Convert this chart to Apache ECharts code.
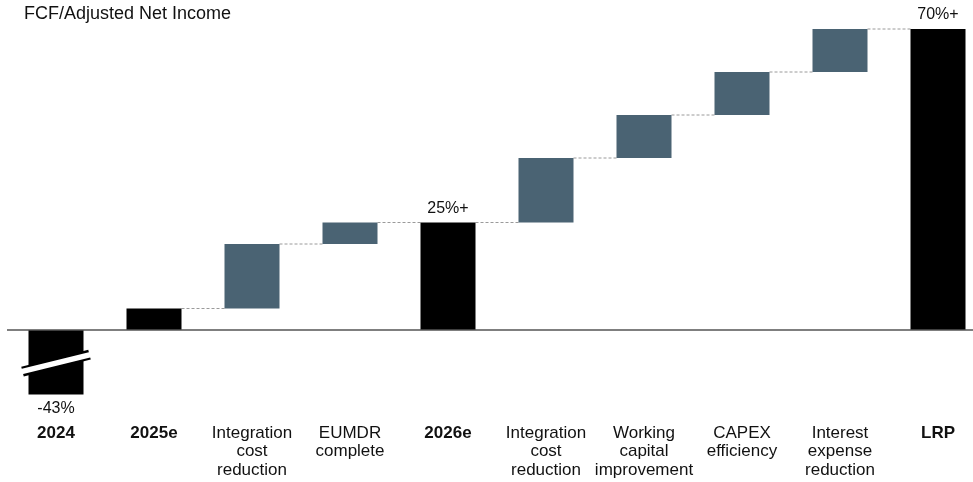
<!DOCTYPE html>
<html>
<head>
<meta charset="utf-8">
<script src="https://cdn.jsdelivr.net/npm/echarts@6/dist/echarts.min.js"></script>
<style>
html,body{margin:0;padding:0;background:#fff;}
#chart{width:973px;height:482px;}
</style>
</head>
<body>
<div id="chart"></div>
<script>
// ---- data ----
var categories = ['2024', '2025e', 'Integration\ncost\nreduction', 'EUMDR\ncomplete', '2026e',
  'Integration\ncost\nreduction', 'Working\ncapital\nimprovement', 'CAPEX\nefficiency',
  'Interest\nexpense\nreduction', 'LRP'];
var boldCategories = ['2024', '2025e', '2026e', 'LRP'];
var barStart = [0, 0, 5, 20, 0, 25, 40, 50, 60, 0];
// 2024 is drawn on a broken (truncated) scale: actual value -43%
var barEnd = [-15, 5, 20, 25, 25, 40, 50, 60, 70, 70];
var barKind = ['total', 'total', 'step', 'step', 'total', 'step', 'step', 'step', 'step', 'total'];
var valueLabels = ['-43%', '', '', '', '25%+', '', '', '', '', '70%+'];
var breakValue = -7.7; // where the axis-break mark sits on the 2024 bar

var FONT = '"Liberation Sans", Arial, sans-serif';
var COLORS = { total: '#000000', step: '#4a6373' };
var BAR_W = 55;

var baseData = barStart.slice();
var deltaData = barEnd.map(function (e, i) {
  return {
    value: e - barStart[i],
    itemStyle: { color: COLORS[barKind[i]] },
    label: {
      show: valueLabels[i] !== '',
      position: (e - barStart[i]) < 0 ? 'bottom' : 'top',
      formatter: valueLabels[i]
    }
  };
});
var connectorData = [];
for (var i = 1; i < barEnd.length - 1; i++) {
  connectorData.push([i, barEnd[i]]);
}

var chart = echarts.init(document.getElementById('chart'), null, { renderer: 'canvas' });
chart.setOption({
  animation: false,
  backgroundColor: '#ffffff',
  title: {
    text: 'FCF/Adjusted Net Income',
    left: 19, top: 0,
    textStyle: { fontFamily: FONT, fontSize: 18, fontWeight: 'normal', color: '#111' }
  },
  grid: { left: 7, width: 980, top: 29, height: 387, outerBoundsMode: 'none', containLabel: false },
  xAxis: {
    type: 'category',
    data: categories,
    axisLine: { show: false, onZero: false },
    axisTick: { show: false },
    axisLabel: {
      interval: 0,
      margin: 8,
      fontFamily: FONT,
      fontSize: 17,
      lineHeight: 18.5,
      color: '#111',
      formatter: function (v) {
        return boldCategories.indexOf(v) >= 0 ? '{b|' + v + '}' : v;
      },
      rich: { b: { fontFamily: FONT, fontSize: 17, fontWeight: 'bold', color: '#111' } }
    }
  },
  yAxis: {
    type: 'value', min: -20, max: 70, show: false,
    splitLine: { show: false }
  },
  series: [
    {
      type: 'bar', stack: 'wf', data: baseData, barWidth: BAR_W,
      itemStyle: { color: 'transparent' }, silent: true
    },
    {
      type: 'bar', stack: 'wf', data: deltaData, barWidth: BAR_W,
      label: { fontFamily: FONT, fontSize: 16, color: '#111', distance: 6 },
      markLine: {
        silent: true, symbol: 'none', label: { show: false },
        lineStyle: { type: 'solid', color: '#555', width: 1.5 },
        data: [{ yAxis: 0 }]
      }
    },
    {
      type: 'custom',
      data: connectorData,
      z: 1,
      renderItem: function (params, api) {
        var p = api.coord([api.value(0), api.value(1)]);
        var band = api.size([1, 0])[0];
        return {
          type: 'line',
          shape: { x1: p[0] + BAR_W / 2, y1: p[1], x2: p[0] + band - BAR_W / 2, y2: p[1] },
          style: { stroke: '#9a9a9a', lineWidth: 1, lineDash: [3, 2] }
        };
      }
    },
    {
      type: 'custom',
      data: [[0, breakValue]],
      z: 5,
      renderItem: function (params, api) {
        var c = api.coord([api.value(0), api.value(1)]);
        var hw = BAR_W / 2 + 6, dy = 8.5;
        var x1 = c[0] - hw, y1 = c[1] + dy, x2 = c[0] + hw, y2 = c[1] - dy;
        return {
          type: 'group',
          children: [
            { type: 'line', shape: { x1: x1, y1: y1, x2: x2, y2: y2 },
              style: { stroke: '#000', lineWidth: 10 } },
            { type: 'line', shape: { x1: x1 - 1, y1: y1, x2: x2 + 1, y2: y2 },
              style: { stroke: '#fff', lineWidth: 5.5 } }
          ]
        };
      }
    }
  ]
});
</script>
</body>
</html>
